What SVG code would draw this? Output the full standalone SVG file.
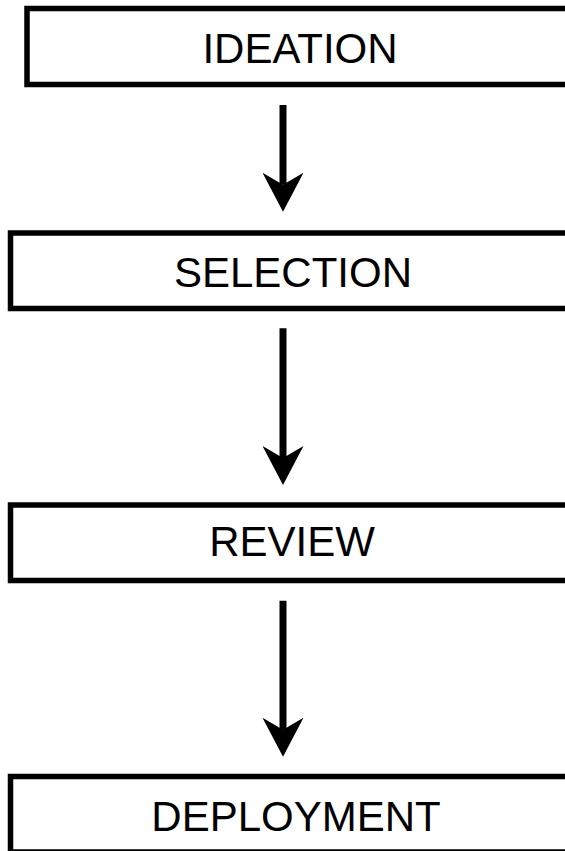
<svg xmlns="http://www.w3.org/2000/svg" width="565" height="851" viewBox="0 0 565 851">
  <style>
    .box { fill: #ffffff; stroke: #000000; stroke-width: 5.5; }
    .label { font-family: "Liberation Sans", Arial, sans-serif; font-size: 42px; fill: #000000; text-anchor: middle; }
    .conn { stroke: #000000; stroke-width: 7; fill: none; marker-end: url(#arrow); }
  </style>
  <defs>
    <marker id="arrow" markerUnits="userSpaceOnUse" viewBox="0 -20.5 39 41" markerWidth="39" markerHeight="41" refX="12" refY="0" orient="auto">
      <path d="M0,-20.5 L39,0 L0,20.5 L12,0 Z" fill="#000000"/>
    </marker>
  </defs>
  <rect width="565" height="851" fill="#ffffff"/>
  <g id="connectors">
    <line class="conn" x1="283" y1="105" x2="283" y2="184.7"/>
    <line class="conn" x1="283" y1="328.3" x2="283" y2="458"/>
    <line class="conn" x1="283" y1="600.7" x2="283" y2="729.7"/>
  </g>
  <g id="ideation">
    <rect class="box" x="27" y="8.5" width="560" height="76"/>
    <text class="label" x="300" y="63.3">IDEATION</text>
  </g>
  <g id="selection">
    <rect class="box" x="10.5" y="233" width="580" height="75.5"/>
    <text class="label" x="293" y="287">SELECTION</text>
  </g>
  <g id="review">
    <rect class="box" x="10.5" y="505" width="580" height="75.5"/>
    <text class="label" x="292" y="556">REVIEW</text>
  </g>
  <g id="deployment">
    <rect class="box" x="10.5" y="776.5" width="580" height="75.5"/>
    <text class="label" x="296" y="831">DEPLOYMENT</text>
  </g>
</svg>
